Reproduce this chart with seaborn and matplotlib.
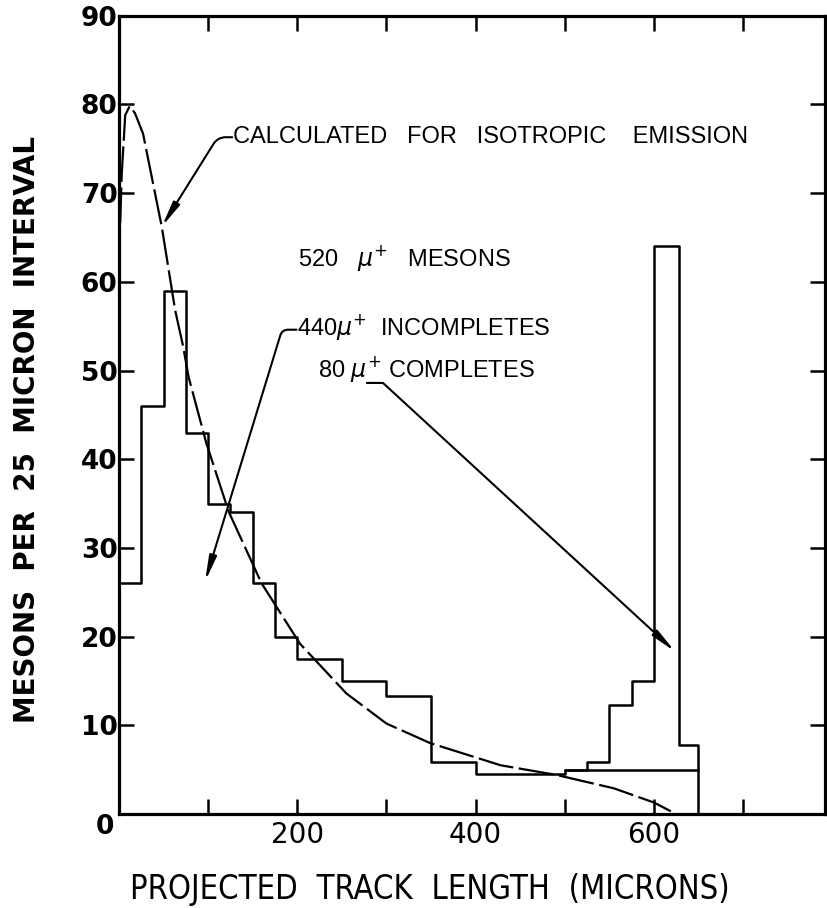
import matplotlib
matplotlib.use("Agg")
import matplotlib.pyplot as plt
import seaborn as sns

# ---------------- data ----------------
bin_edges = [0, 25, 50, 75, 100, 125, 150, 175, 200, 250, 300, 350, 400,
             500, 525, 550, 575, 600, 628, 650]
total_counts = [26, 46, 59, 43, 35, 34, 26, 20, 17.5, 15, 13.3, 5.9, 4.5,
                5.0, 5.9, 12.3, 15, 64, 7.8]

incomplete_edges = [500, 525, 550, 575, 600, 628, 650]
incomplete_counts = [5.0, 5.0, 5.0, 5.0, 5.0, 5.0]

curve_x = [0, 3, 7, 12, 18, 27, 48, 63, 72, 78, 98, 123, 160, 203, 255,
           300, 349, 428, 491, 555, 600, 625]
curve_y = [62, 72, 78.8, 79.8, 79.0, 76.7, 66.2, 56.8, 52.7, 49.3, 41.8,
           34.1, 26.0, 19.2, 13.6, 10.2, 8.0, 5.5, 4.4, 2.9, 1.3, 0.0]

x_ticks = [0, 100, 200, 300, 400, 500, 600, 700]
x_tick_labels = ["", "", "200", "", "400", "", "600", ""]
y_ticks = [0, 10, 20, 30, 40, 50, 60, 70, 80, 90]
y_tick_labels = ["", "10", "20", "30", "40", "50", "60", "70", "80", "90"]

x_label = "PROJECTED  TRACK  LENGTH  (MICRONS)"
y_label = "MESONS  PER  25  MICRON  INTERVAL"
calc_text = "CALCULATED   FOR   ISOTROPIC    EMISSION"
mesons_text = r"520   $\mu^{+}$   MESONS"
incomplete_text = r"440$\mu^{+}$  INCOMPLETES"
complete_text = r"80 $\mu^{+}$ COMPLETES"

# ---------------- style ----------------
sns.set_style("ticks")
plt.rcParams["font.family"] = ["Liberation Sans", "DejaVu Sans"]
plt.rcParams["mathtext.fontset"] = "dejavusans"
plt.rcParams["text.color"] = "black"
plt.rcParams["axes.labelcolor"] = "black"
plt.rcParams["xtick.color"] = "black"
plt.rcParams["ytick.color"] = "black"

fig = plt.figure(figsize=(8.28, 9.08), dpi=100)
ax = fig.add_axes([0.1437, 0.1035, 0.8527, 0.8792])

centers = [(a + b) / 2 for a, b in zip(bin_edges[:-1], bin_edges[1:])]
sns.histplot(x=centers, weights=total_counts, bins=bin_edges,
             element="step", fill=True, color="black", facecolor="none",
             edgecolor="black", linewidth=1.8, ax=ax)

sns.lineplot(x=incomplete_edges,
             y=incomplete_counts + [incomplete_counts[-1]],
             drawstyle="steps-post", color="black", linewidth=1.8, ax=ax)

sns.lineplot(x=curve_x, y=curve_y, color="black", linewidth=1.6,
             linestyle=(0, (16, 2.5)), ax=ax)

ax.set_xlim(0, 792)
ax.set_ylim(0, 90)
ax.set_xlabel("")
ax.set_ylabel("")

for s in ax.spines.values():
    s.set_visible(True)
    s.set_linewidth(2.3)
    s.set_color("black")

ax.set_xticks(x_ticks)
ax.set_xticklabels(x_tick_labels, family=["DejaVu Sans"], fontsize=20,
                   color="black")
ax.set_yticks(y_ticks)
ax.set_yticklabels(y_tick_labels, family=["DejaVu Sans"], fontweight="bold",
                   fontsize=19, color="black")
ax.tick_params(axis="both", which="both", direction="in", length=11,
               width=1.8, top=True, right=True, labeltop=False,
               labelright=False, colors="black")
ax.tick_params(axis="x", pad=5)
ax.tick_params(axis="y", pad=1)

# the shared "0" at the origin
ax.annotate("0", xy=(0, 0), xycoords="data", xytext=(-10, -9),
            textcoords="offset points", ha="center", va="center",
            family=["DejaVu Sans"], fontweight="bold", fontsize=19,
            color="black")

fig.text(0.519, 0.02, x_label, ha="center", va="center",
         family=["DejaVu Sans"], fontstretch="condensed", fontsize=23.5,
         color="black")
fig.text(0.033, 0.527, y_label, ha="center", va="center", rotation=90,
         family=["DejaVu Sans"], fontsize=20, fontweight="bold",
         color="black")

# text annotations
ax.text(128, 76.3, calc_text, ha="left", va="center", fontsize=17,
        color="black")
ax.text(201, 62.7, mesons_text, ha="left", va="center", fontsize=17,
        color="black")
ax.text(200, 54.9, incomplete_text, ha="left", va="center", fontsize=17,
        color="black")
ax.text(223, 50.2, complete_text, ha="left", va="center", fontsize=17,
        color="black")

arrow_kw = dict(arrowstyle="-|>,head_length=1.5,head_width=0.22",
                color="black", lw=1.5, shrinkA=0, shrinkB=0)
ax.annotate("", xy=(47.9, 66.2), xytext=(127, 76.3),
            arrowprops=dict(connectionstyle="angle,angleA=0,angleB=58,rad=8",
                            **arrow_kw))
ax.annotate("", xy=(96.5, 26.2), xytext=(199, 54.6),
            arrowprops=dict(connectionstyle="angle,angleA=0,angleB=73,rad=6",
                            **arrow_kw))
ax.annotate("", xy=(624, 18.3), xytext=(278, 48.6),
            arrowprops=dict(connectionstyle="angle,angleA=0,angleB=-42.6,rad=0",
                            **arrow_kw))

fig.savefig("out.png", dpi=100, facecolor="white")
